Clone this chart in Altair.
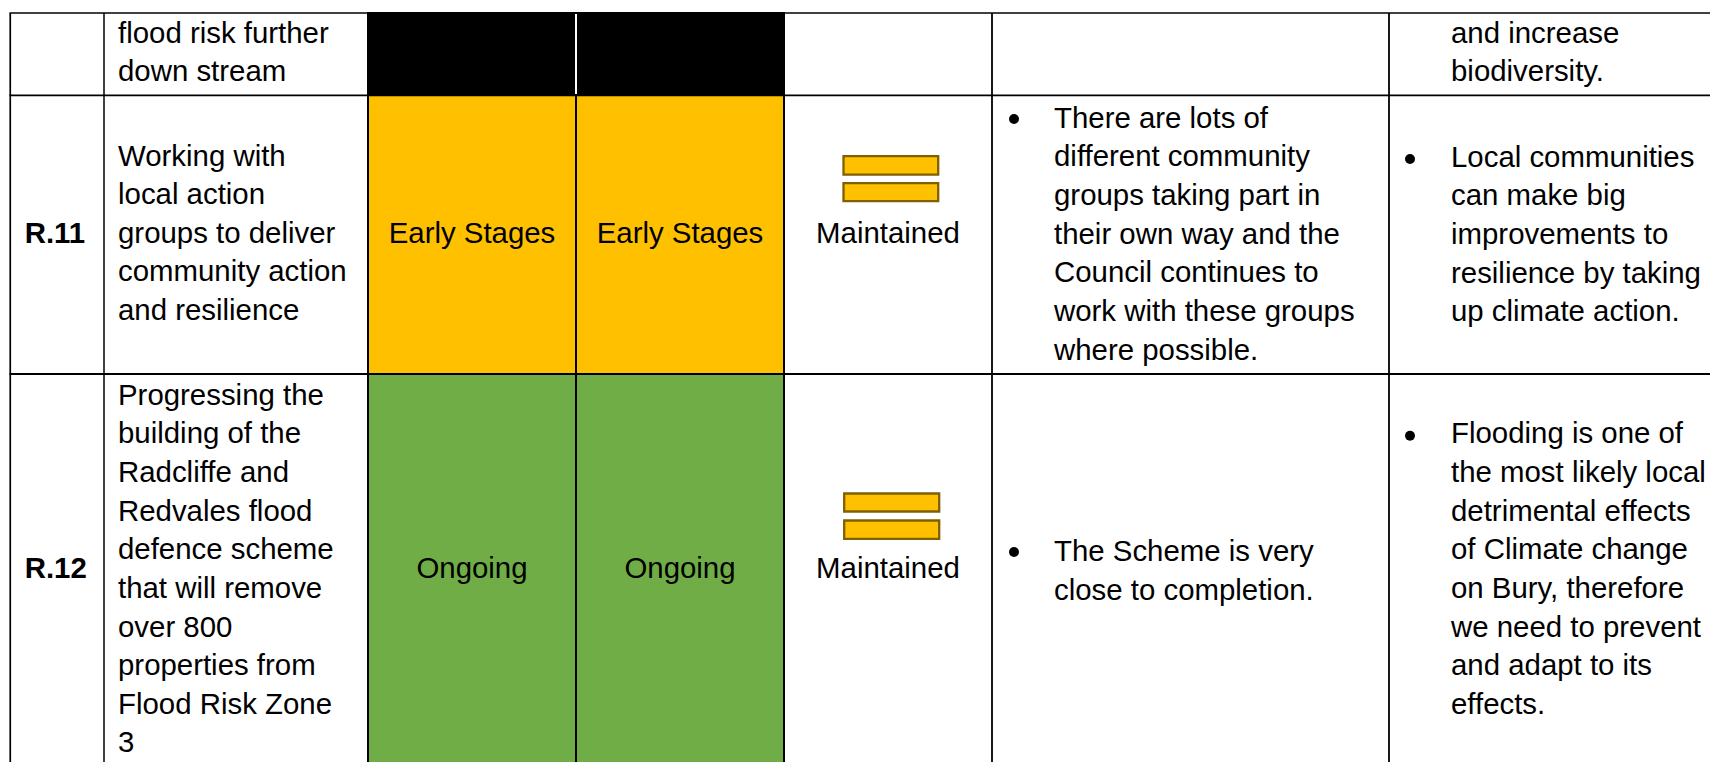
import altair as alt
import pandas as pd

# ---- table content ----
row_ids = ["R.11", "R.12"]
actions = [
    ["flood risk further", "down stream"],
    ["Working with", "local action", "groups to deliver", "community action", "and resilience"],
    ["Progressing the", "building of the", "Radcliffe and", "Redvales flood", "defence scheme",
     "that will remove", "over 800", "properties from", "Flood Risk Zone", "3"],
]
status_labels = ["Early Stages", "Ongoing"]
trend_labels = ["Maintained", "Maintained"]
progress = [
    ["There are lots of", "different community", "groups taking part in", "their own way and the",
     "Council continues to", "work with these groups", "where possible."],
    ["The Scheme is very", "close to completion."],
]
benefits = [
    ["and increase", "biodiversity."],
    ["Local communities", "can make big", "improvements to", "resilience by taking", "up climate action."],
    ["Flooding is one of", "the most likely local", "detrimental effects", "of Climate change",
     "on Bury, therefore", "we need to prevent", "and adapt to its", "effects."],
]

# ---- page geometry of the table (pixels of the page) ----
W, H = 1710, 762
M = 8
FONT = "Liberation Sans"
FS = 29.4
LEAD = 38.65
BLACK, AMBER, GREEN, BROWN = "#000000", "#FFC000", "#70AD47", "#7F6000"

col_lines = [(10.25, 1.7), (104, 1.5), (368, 2), (576, 2), (784, 2), (992, 1.8), (1389, 1.8)]
row_lines = [(13, 1.7), (95.3, 1.7), (374, 2.2)]


def blocks(items):
    out = []
    for lines, x, y0, align, weight in items:
        for i, t in enumerate(lines):
            out.append(dict(t=t, x=x, y=y0 + i * LEAD, align=align, weight=weight))
    return out


text_items = [
    (actions[0], 118, 42.7, "left", "normal"),
    (actions[1], 118, 165.5, "left", "normal"),
    (actions[2], 118, 404.6, "left", "normal"),
    ([row_ids[0]], 24.7, 242.7, "left", "bold"),
    ([row_ids[1]], 24.7, 578, "left", "bold"),
    ([status_labels[0]], 472, 242.7, "center", "normal"),
    ([status_labels[0]], 680, 242.7, "center", "normal"),
    ([status_labels[1]], 472, 578, "center", "normal"),
    ([status_labels[1]], 680, 578, "center", "normal"),
    ([trend_labels[0]], 888, 242.7, "center", "normal"),
    ([trend_labels[1]], 888, 578, "center", "normal"),
    (progress[0], 1054, 127.7, "left", "normal"),
    (progress[1], 1054, 561, "left", "normal"),
    (benefits[0], 1451, 42.7, "left", "normal"),
    (benefits[1], 1451, 166.7, "left", "normal"),
    (benefits[2], 1451, 443.3, "left", "normal"),
]
texts = pd.DataFrame(blocks(text_items))

fills = pd.DataFrame([
    dict(x=369, x2=783, y=95, y2=374, c=AMBER),
    dict(x=369, x2=783, y=374, y2=H, c=GREEN),
])
black = pd.DataFrame([dict(x=367, x2=785, y=12, y2=96)])
white = pd.DataFrame([dict(x=576, y=14, y2=94)])
icons = pd.DataFrame([
    dict(x=843.5, x2=938.2, y=156.2, y2=174.6),
    dict(x=843.5, x2=938.2, y=183.2, y2=201.2),
    dict(x=844.2, x2=939.2, y=493.5, y2=511.5),
    dict(x=844.2, x2=939.2, y=520.5, y2=538.8),
])
bullets = pd.DataFrame([
    dict(x=1014, y=119), dict(x=1410, y=159), dict(x=1014, y=552), dict(x=1410, y=435.7),
])
vlines = pd.DataFrame([dict(x=x, y=13, y2=H, w=w) for x, w in col_lines])
hlines = pd.DataFrame([dict(y=y, x=9.5, x2=W, w=w) for y, w in row_lines])

X = alt.X("x:Q", scale=alt.Scale(domain=[M, W], nice=False, zero=False), axis=None)
Y = alt.Y("y:Q", scale=alt.Scale(domain=[H, M], nice=False, zero=False), axis=None)
X2 = alt.X2("x2:Q")
Y2 = alt.Y2("y2:Q")
SW = alt.Size("w:Q", scale=None, legend=None)

layers = [
    alt.Chart(fills).mark_rect().encode(x=X, x2=X2, y=Y, y2=Y2, color=alt.Color("c:N", scale=None)),
    alt.Chart(vlines).mark_rule(color="black").encode(x=X, y=Y, y2=Y2, size=SW),
    alt.Chart(hlines).mark_rule(color="black").encode(y=Y, x=X, x2=X2, size=SW),
    alt.Chart(black).mark_rect(color=BLACK).encode(x=X, x2=X2, y=Y, y2=Y2),
    alt.Chart(white).mark_rule(color="white", strokeWidth=2).encode(x=X, y=Y, y2=Y2),
    alt.Chart(icons).mark_rect(color=AMBER, stroke=BROWN, strokeWidth=2.3).encode(x=X, x2=X2, y=Y, y2=Y2),
    alt.Chart(bullets).mark_point(filled=True, color="black", size=100, opacity=1, shape="circle").encode(x=X, y=Y),
]
for align in ["left", "center"]:
    for weight in ["normal", "bold"]:
        sub = texts[(texts["align"] == align) & (texts["weight"] == weight)]
        if len(sub):
            layers.append(
                alt.Chart(sub).mark_text(
                    font=FONT, fontSize=FS, fontWeight=weight, align=align,
                    baseline="alphabetic", color="black",
                ).encode(x=X, y=Y, text="t:N")
            )

chart = (
    alt.layer(*layers)
    .properties(
        width=W - M, height=H - M, padding=0, background="white",
        autosize=alt.AutoSizeParams(type="none"),
    )
    .configure_view(stroke=None)
)
chart.save("out.html", embed_options={"renderer": "svg", "actions": False})
